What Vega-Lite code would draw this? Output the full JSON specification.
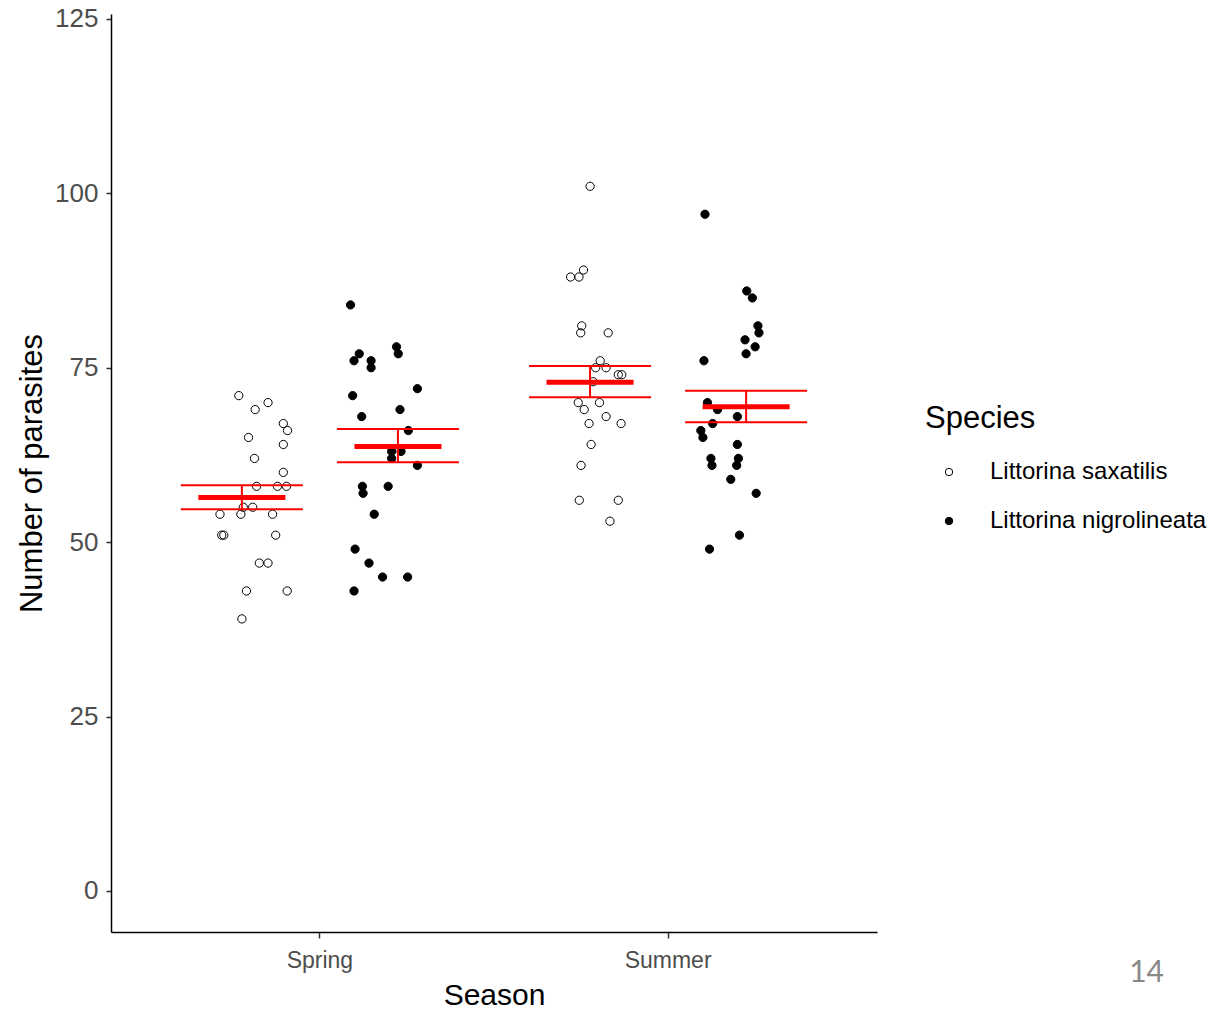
{
  "$schema": "https://vega.github.io/schema/vega-lite/v6.json",
  "width": 766,
  "height": 918,
  "autosize": {"type": "none"},
  "padding": {"left": 111, "top": 14, "right": 344, "bottom": 77},
  "background": "white",
  "config": {
    "view": {"stroke": null},
    "font": "Liberation Sans",
    "axis": {"grid": false}
  },
  "title": {"text": "14", "orient": "bottom", "anchor": "end", "frame": "group", "fontSize": 30, "font": "Lato", "color": "#888888", "fontWeight": "normal", "dx": 287, "dy": -56},
  "datasets": {
    "points": [
      {"Season":"Spring","Species":"Littorina saxatilis","Parasites":71,"jitter":-0.233},
      {"Season":"Spring","Species":"Littorina saxatilis","Parasites":70,"jitter":-0.149},
      {"Season":"Spring","Species":"Littorina saxatilis","Parasites":69,"jitter":-0.186},
      {"Season":"Spring","Species":"Littorina saxatilis","Parasites":67,"jitter":-0.105},
      {"Season":"Spring","Species":"Littorina saxatilis","Parasites":66,"jitter":-0.093},
      {"Season":"Spring","Species":"Littorina saxatilis","Parasites":65,"jitter":-0.205},
      {"Season":"Spring","Species":"Littorina saxatilis","Parasites":64,"jitter":-0.105},
      {"Season":"Spring","Species":"Littorina saxatilis","Parasites":62,"jitter":-0.188},
      {"Season":"Spring","Species":"Littorina saxatilis","Parasites":60,"jitter":-0.105},
      {"Season":"Spring","Species":"Littorina saxatilis","Parasites":58,"jitter":-0.182},
      {"Season":"Spring","Species":"Littorina saxatilis","Parasites":58,"jitter":-0.122},
      {"Season":"Spring","Species":"Littorina saxatilis","Parasites":58,"jitter":-0.096},
      {"Season":"Spring","Species":"Littorina saxatilis","Parasites":55,"jitter":-0.220},
      {"Season":"Spring","Species":"Littorina saxatilis","Parasites":55,"jitter":-0.193},
      {"Season":"Spring","Species":"Littorina saxatilis","Parasites":54,"jitter":-0.287},
      {"Season":"Spring","Species":"Littorina saxatilis","Parasites":54,"jitter":-0.227},
      {"Season":"Spring","Species":"Littorina saxatilis","Parasites":54,"jitter":-0.136},
      {"Season":"Spring","Species":"Littorina saxatilis","Parasites":51,"jitter":-0.282},
      {"Season":"Spring","Species":"Littorina saxatilis","Parasites":51,"jitter":-0.276},
      {"Season":"Spring","Species":"Littorina saxatilis","Parasites":51,"jitter":-0.127},
      {"Season":"Spring","Species":"Littorina saxatilis","Parasites":47,"jitter":-0.174},
      {"Season":"Spring","Species":"Littorina saxatilis","Parasites":47,"jitter":-0.149},
      {"Season":"Spring","Species":"Littorina saxatilis","Parasites":43,"jitter":-0.211},
      {"Season":"Spring","Species":"Littorina saxatilis","Parasites":43,"jitter":-0.094},
      {"Season":"Spring","Species":"Littorina saxatilis","Parasites":39,"jitter":-0.224},
      {"Season":"Spring","Species":"Littorina nigrolineata","Parasites":84,"jitter":0.088},
      {"Season":"Spring","Species":"Littorina nigrolineata","Parasites":78,"jitter":0.220},
      {"Season":"Spring","Species":"Littorina nigrolineata","Parasites":77,"jitter":0.225},
      {"Season":"Spring","Species":"Littorina nigrolineata","Parasites":77,"jitter":0.113},
      {"Season":"Spring","Species":"Littorina nigrolineata","Parasites":76,"jitter":0.098},
      {"Season":"Spring","Species":"Littorina nigrolineata","Parasites":76,"jitter":0.147},
      {"Season":"Spring","Species":"Littorina nigrolineata","Parasites":75,"jitter":0.147},
      {"Season":"Spring","Species":"Littorina nigrolineata","Parasites":72,"jitter":0.280},
      {"Season":"Spring","Species":"Littorina nigrolineata","Parasites":71,"jitter":0.094},
      {"Season":"Spring","Species":"Littorina nigrolineata","Parasites":69,"jitter":0.230},
      {"Season":"Spring","Species":"Littorina nigrolineata","Parasites":68,"jitter":0.120},
      {"Season":"Spring","Species":"Littorina nigrolineata","Parasites":66,"jitter":0.254},
      {"Season":"Spring","Species":"Littorina nigrolineata","Parasites":63,"jitter":0.206},
      {"Season":"Spring","Species":"Littorina nigrolineata","Parasites":62,"jitter":0.206},
      {"Season":"Spring","Species":"Littorina nigrolineata","Parasites":63,"jitter":0.233},
      {"Season":"Spring","Species":"Littorina nigrolineata","Parasites":61,"jitter":0.280},
      {"Season":"Spring","Species":"Littorina nigrolineata","Parasites":58,"jitter":0.122},
      {"Season":"Spring","Species":"Littorina nigrolineata","Parasites":57,"jitter":0.124},
      {"Season":"Spring","Species":"Littorina nigrolineata","Parasites":58,"jitter":0.196},
      {"Season":"Spring","Species":"Littorina nigrolineata","Parasites":54,"jitter":0.156},
      {"Season":"Spring","Species":"Littorina nigrolineata","Parasites":49,"jitter":0.101},
      {"Season":"Spring","Species":"Littorina nigrolineata","Parasites":47,"jitter":0.141},
      {"Season":"Spring","Species":"Littorina nigrolineata","Parasites":45,"jitter":0.180},
      {"Season":"Spring","Species":"Littorina nigrolineata","Parasites":45,"jitter":0.252},
      {"Season":"Spring","Species":"Littorina nigrolineata","Parasites":43,"jitter":0.098},
      {"Season":"Summer","Species":"Littorina saxatilis","Parasites":101,"jitter":-0.224},
      {"Season":"Summer","Species":"Littorina saxatilis","Parasites":89,"jitter":-0.243},
      {"Season":"Summer","Species":"Littorina saxatilis","Parasites":88,"jitter":-0.280},
      {"Season":"Summer","Species":"Littorina saxatilis","Parasites":88,"jitter":-0.256},
      {"Season":"Summer","Species":"Littorina saxatilis","Parasites":81,"jitter":-0.248},
      {"Season":"Summer","Species":"Littorina saxatilis","Parasites":80,"jitter":-0.251},
      {"Season":"Summer","Species":"Littorina saxatilis","Parasites":80,"jitter":-0.172},
      {"Season":"Summer","Species":"Littorina saxatilis","Parasites":76,"jitter":-0.195},
      {"Season":"Summer","Species":"Littorina saxatilis","Parasites":75,"jitter":-0.208},
      {"Season":"Summer","Species":"Littorina saxatilis","Parasites":75,"jitter":-0.178},
      {"Season":"Summer","Species":"Littorina saxatilis","Parasites":74,"jitter":-0.143},
      {"Season":"Summer","Species":"Littorina saxatilis","Parasites":74,"jitter":-0.133},
      {"Season":"Summer","Species":"Littorina saxatilis","Parasites":73,"jitter":-0.215},
      {"Season":"Summer","Species":"Littorina saxatilis","Parasites":70,"jitter":-0.258},
      {"Season":"Summer","Species":"Littorina saxatilis","Parasites":70,"jitter":-0.197},
      {"Season":"Summer","Species":"Littorina saxatilis","Parasites":69,"jitter":-0.241},
      {"Season":"Summer","Species":"Littorina saxatilis","Parasites":68,"jitter":-0.178},
      {"Season":"Summer","Species":"Littorina saxatilis","Parasites":67,"jitter":-0.227},
      {"Season":"Summer","Species":"Littorina saxatilis","Parasites":67,"jitter":-0.135},
      {"Season":"Summer","Species":"Littorina saxatilis","Parasites":64,"jitter":-0.221},
      {"Season":"Summer","Species":"Littorina saxatilis","Parasites":61,"jitter":-0.250},
      {"Season":"Summer","Species":"Littorina saxatilis","Parasites":56,"jitter":-0.255},
      {"Season":"Summer","Species":"Littorina saxatilis","Parasites":56,"jitter":-0.143},
      {"Season":"Summer","Species":"Littorina saxatilis","Parasites":53,"jitter":-0.167},
      {"Season":"Summer","Species":"Littorina nigrolineata","Parasites":97,"jitter":0.106},
      {"Season":"Summer","Species":"Littorina nigrolineata","Parasites":86,"jitter":0.226},
      {"Season":"Summer","Species":"Littorina nigrolineata","Parasites":85,"jitter":0.242},
      {"Season":"Summer","Species":"Littorina nigrolineata","Parasites":81,"jitter":0.258},
      {"Season":"Summer","Species":"Littorina nigrolineata","Parasites":80,"jitter":0.261},
      {"Season":"Summer","Species":"Littorina nigrolineata","Parasites":79,"jitter":0.221},
      {"Season":"Summer","Species":"Littorina nigrolineata","Parasites":78,"jitter":0.250},
      {"Season":"Summer","Species":"Littorina nigrolineata","Parasites":77,"jitter":0.224},
      {"Season":"Summer","Species":"Littorina nigrolineata","Parasites":76,"jitter":0.103},
      {"Season":"Summer","Species":"Littorina nigrolineata","Parasites":70,"jitter":0.113},
      {"Season":"Summer","Species":"Littorina nigrolineata","Parasites":69,"jitter":0.142},
      {"Season":"Summer","Species":"Littorina nigrolineata","Parasites":68,"jitter":0.199},
      {"Season":"Summer","Species":"Littorina nigrolineata","Parasites":67,"jitter":0.128},
      {"Season":"Summer","Species":"Littorina nigrolineata","Parasites":66,"jitter":0.094},
      {"Season":"Summer","Species":"Littorina nigrolineata","Parasites":65,"jitter":0.100},
      {"Season":"Summer","Species":"Littorina nigrolineata","Parasites":64,"jitter":0.199},
      {"Season":"Summer","Species":"Littorina nigrolineata","Parasites":62,"jitter":0.123},
      {"Season":"Summer","Species":"Littorina nigrolineata","Parasites":62,"jitter":0.202},
      {"Season":"Summer","Species":"Littorina nigrolineata","Parasites":61,"jitter":0.126},
      {"Season":"Summer","Species":"Littorina nigrolineata","Parasites":61,"jitter":0.197},
      {"Season":"Summer","Species":"Littorina nigrolineata","Parasites":59,"jitter":0.180},
      {"Season":"Summer","Species":"Littorina nigrolineata","Parasites":57,"jitter":0.253},
      {"Season":"Summer","Species":"Littorina nigrolineata","Parasites":51,"jitter":0.205},
      {"Season":"Summer","Species":"Littorina nigrolineata","Parasites":49,"jitter":0.119}
    ],
    "summary": [
      {"Season":"Spring","Species":"Littorina saxatilis","mean":56.4,"lo":54.7,"hi":58.15},
      {"Season":"Spring","Species":"Littorina nigrolineata","mean":63.7,"lo":61.45,"hi":66.2},
      {"Season":"Summer","Species":"Littorina saxatilis","mean":72.9,"lo":70.77,"hi":75.26},
      {"Season":"Summer","Species":"Littorina nigrolineata","mean":69.4,"lo":67.2,"hi":71.7}
    ]
  },
  "encoding": {
    "x": {
      "field": "Season", "type": "nominal",
      "scale": {"type": "band", "domain": ["Spring", "Summer"], "paddingInner": 0, "paddingOuter": 0.1},
      "axis": {"title": "Season", "titleFontSize": 30, "titleFontWeight": "normal", "titleColor": "black", "titlePadding": 8, "labelFontSize": 23, "labelColor": "#4d4d4d", "labelPadding": 11, "labelAngle": 0, "tickSize": 6, "tickColor": "#333333", "tickWidth": 1.5, "domainColor": "black", "domainWidth": 1.5}
    },
    "y": {
      "type": "quantitative",
      "scale": {"domain": [-5.88, 125.7], "nice": false, "zero": false},
      "axis": {"title": "Number of parasites", "values": [0, 25, 50, 75, 100, 125], "titleFontSize": 31, "titleFontWeight": "normal", "titleColor": "black", "titlePadding": 6, "labelFontSize": 26, "labelColor": "#4d4d4d", "labelPadding": 8, "tickSize": 5, "tickColor": "#333333", "tickWidth": 1.5, "domainColor": "black", "domainWidth": 1.5}
    }
  },
  "layer": [
    {
      "data": {"name": "points"},
      "mark": {"type": "point", "filled": true, "stroke": "black", "strokeWidth": 1, "opacity": 1, "size": 68},
      "encoding": {
        "xOffset": {"field": "jitter", "type": "quantitative", "scale": {"domain": [-0.5, 0.5]}},
        "y": {"field": "Parasites", "type": "quantitative"},
        "fill": {
          "field": "Species", "type": "nominal",
          "scale": {"domain": ["Littorina saxatilis", "Littorina nigrolineata"], "range": ["transparent", "black"]},
          "legend": {"title": "Species", "orient": "none", "legendX": 814, "legendY": 390, "titleFontSize": 31, "titleFontWeight": "normal", "titleColor": "black", "titlePadding": 25, "labelFontSize": 24, "labelColor": "black", "labelLimit": 400, "symbolType": "circle", "symbolSize": 55, "symbolStrokeColor": "black", "symbolStrokeWidth": 1, "symbolOffset": 12, "labelOffset": 29, "rowPadding": 25}
        }
      }
    },
    {
      "data": {"name": "summary"},
      "mark": {"type": "rule", "color": "red", "strokeWidth": 2, "opacity": 1},
      "encoding": {
        "xOffset": {"field": "Species", "type": "nominal", "scale": {"domain": ["Littorina saxatilis", "Littorina nigrolineata"], "paddingInner": 0, "paddingOuter": 0.1154}},
        "y": {"field": "lo", "type": "quantitative"},
        "y2": {"field": "hi"}
      }
    },
    {
      "data": {"name": "summary"},
      "mark": {"type": "tick", "color": "red", "orient": "horizontal", "size": 122, "thickness": 2, "opacity": 1},
      "encoding": {
        "xOffset": {"field": "Species", "type": "nominal", "scale": {"domain": ["Littorina saxatilis", "Littorina nigrolineata"], "paddingInner": 0, "paddingOuter": 0.1154}},
        "y": {"field": "lo", "type": "quantitative"}
      }
    },
    {
      "data": {"name": "summary"},
      "mark": {"type": "tick", "color": "red", "orient": "horizontal", "size": 122, "thickness": 2, "opacity": 1},
      "encoding": {
        "xOffset": {"field": "Species", "type": "nominal", "scale": {"domain": ["Littorina saxatilis", "Littorina nigrolineata"], "paddingInner": 0, "paddingOuter": 0.1154}},
        "y": {"field": "hi", "type": "quantitative"}
      }
    },
    {
      "data": {"name": "summary"},
      "mark": {"type": "tick", "color": "red", "orient": "horizontal", "size": 87, "thickness": 5, "opacity": 1},
      "encoding": {
        "xOffset": {"field": "Species", "type": "nominal", "scale": {"domain": ["Littorina saxatilis", "Littorina nigrolineata"], "paddingInner": 0, "paddingOuter": 0.1154}},
        "y": {"field": "mean", "type": "quantitative"}
      }
    }
  ],
  "resolve": {"scale": {"xOffset": "independent"}}
}
